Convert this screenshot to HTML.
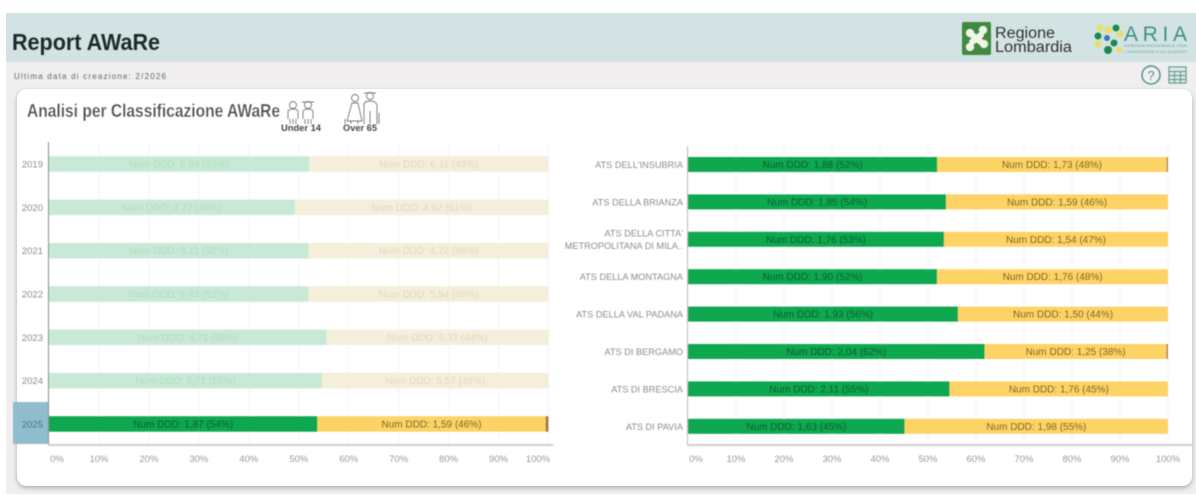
<!DOCTYPE html>
<html lang="it">
<head>
<meta charset="utf-8">
<title>Report AWaRe</title>
<style>
html,body{margin:0;padding:0;width:1196px;height:500px;overflow:hidden;background:#fff}
svg{display:block;font-family:"Liberation Sans",sans-serif}
</style>
</head>
<body>
<svg id="root" xmlns="http://www.w3.org/2000/svg" width="1196" height="500" viewBox="0 0 1196 500">
  <defs>
    <filter id="soft" x="-2%" y="-2%" width="104%" height="104%"><feGaussianBlur stdDeviation="0.45"/></filter>
    <filter id="shadow" x="-2%" y="-3%" width="104%" height="108%"><feDropShadow dx="0" dy="2" stdDeviation="2.5" flood-color="#000" flood-opacity="0.28"/></filter>
  </defs>
  <rect x="6" y="62" width="1190" height="432" fill="#f0eeee"/>
  <rect x="6" y="13" width="1190" height="49" fill="#d3e3e3"/>
  <rect x="17" y="89" width="1175" height="397" rx="10" fill="#fff" filter="url(#shadow)"/>
  <g id="content" filter="url(#soft)">
    <text x="12" y="50" font-size="23" font-weight="700" fill="#1f2a2a" textLength="148" lengthAdjust="spacingAndGlyphs">Report AWaRe</text>
    <text x="14" y="79" font-size="8" fill="#666" textLength="152" lengthAdjust="spacing">Ultima data di creazione: 2/2026</text>

    <g>
      <rect x="962" y="22" width="29" height="33" rx="2" fill="#3f8a3f"/>
      <g fill="#eef7e6">
        <circle cx="970" cy="33" r="4"/><circle cx="983" cy="30" r="4"/>
        <circle cx="970" cy="47" r="4"/><circle cx="984" cy="44" r="4"/>
        <rect x="968" y="35.5" width="17" height="6" rx="3" transform="rotate(38 976.5 38.5)"/>
        <rect x="968" y="35.5" width="17" height="6" rx="3" transform="rotate(-38 976.5 38.5)"/>
      </g>
      <text x="995" y="38" font-size="15.5" fill="#333" textLength="60" lengthAdjust="spacingAndGlyphs">Regione</text>
      <text x="995" y="52" font-size="15.5" fill="#333" textLength="77" lengthAdjust="spacingAndGlyphs">Lombardia</text>
    </g>
    <g>
      <circle cx="1100" cy="28" r="3.5" fill="#e5de70"/><circle cx="1116" cy="28" r="3.5" fill="#1f8a50"/>
      <circle cx="1108" cy="30" r="3.5" fill="#e5de70"/><circle cx="1098" cy="36" r="3.5" fill="#1f8a50"/>
      <circle cx="1120" cy="34" r="3.5" fill="#e5de70"/><circle cx="1098" cy="44" r="3.5" fill="#e5de70"/>
      <circle cx="1114" cy="43" r="3.5" fill="#1f8a50"/><circle cx="1108" cy="50" r="4" fill="#1f8a50"/>
      <circle cx="1119" cy="50" r="3" fill="#e5de70"/><circle cx="1107" cy="38" r="3" fill="#3d78b8"/>
      <text x="1124" y="41" font-size="21" fill="#3f8f8a" textLength="63" lengthAdjust="spacing">ARIA</text>
      <text x="1124" y="47" font-size="4" fill="#6aa7a2" textLength="63" lengthAdjust="spacingAndGlyphs">AZIENDA REGIONALE PER</text>
      <text x="1124" y="53" font-size="4" fill="#6aa7a2" textLength="63" lengthAdjust="spacingAndGlyphs">L'INNOVAZIONE E GLI ACQUISTI</text>
    </g>
    <g>
      <circle cx="1151" cy="75" r="9" fill="none" stroke="#4f9393" stroke-width="1.5"/>
      <text x="1151" y="80" font-size="13" text-anchor="middle" fill="#4f9393">?</text>
    </g>
    <g fill="none" stroke="#5a9a8e" stroke-width="1.2">
      <rect x="1169" y="67" width="17" height="16" fill="#dfeae6"/>
      <path d="M1169 71.5H1186M1169 75.5H1186M1169 79.5H1186M1174.5 71.5V83M1180.5 71.5V83"/>
    </g>

    <text x="27" y="117" font-size="18.5" font-weight="700" fill="#4a4a4a" textLength="253" lengthAdjust="spacingAndGlyphs" stroke="#fff" stroke-width="0.2">Analisi per Classificazione AWaRe</text>
    <g>
      <g fill="none" stroke="#777" stroke-width="0.9">
        <circle cx="293" cy="105" r="3.5"/><path d="M288 119V112Q288 109 293 109T298 112V119M290 119V124M296 119V124M293 119V124"/>
        <circle cx="308" cy="105" r="3.5"/><path d="M303 119V112Q303 109 308 109T313 112V119M305 119V124M311 119V124M308 119V124M302 102H314"/>
      </g>
      <text x="301" y="131" font-size="9.5" font-weight="700" fill="#444" text-anchor="middle" textLength="40" lengthAdjust="spacingAndGlyphs">Under 14</text>
    </g>
    <g>
      <g fill="none" stroke="#777" stroke-width="0.9">
        <circle cx="355" cy="98" r="3.5"/><path d="M347 121L352 103H358L362 121ZM351 121V124M358 121V124"/>
        <circle cx="370" cy="96" r="3.5"/><path d="M364 124V105Q364 101 370 101T377 105V124M370 111V124M345 119V124M379 113V124M364 93H376"/>
      </g>
      <text x="360" y="131" font-size="9.5" font-weight="700" fill="#444" text-anchor="middle" textLength="34" lengthAdjust="spacingAndGlyphs">Over 65</text>
    </g>

    <rect x="13" y="402" width="35" height="42" fill="#8fbdcf"/>
    <g id="left-chart"></g>
    <g id="right-chart"></g>
  </g>
</svg>
<script>
// Left chart data
const years = ['2019', '2020', '2021', '2022', '2023', '2024', '2025'];
const yearGreen = [6.64, 4.77, 5.11, 6.43, 6.71, 6.71, 1.87];
const yearYellow = [6.11, 4.92, 4.72, 5.94, 5.37, 5.57, 1.59];
const yearOther = [0, 0, 0, 0, 0, 0, 0.02];
const selectedYear = '2025';

// Right chart data
const atsNames = [
  ["ATS DELL'INSUBRIA"],
  ['ATS DELLA BRIANZA'],
  ["ATS DELLA CITTA'", 'METROPOLITANA DI MILA..'],
  ['ATS DELLA MONTAGNA'],
  ['ATS DELLA VAL PADANA'],
  ['ATS DI BERGAMO'],
  ['ATS DI BRESCIA'],
  ['ATS DI PAVIA']
];
const atsGreen = [1.88, 1.85, 1.76, 1.90, 1.93, 2.04, 2.11, 1.63];
const atsYellow = [1.73, 1.59, 1.54, 1.76, 1.50, 1.25, 1.76, 1.98];
const atsOther = [0.01, 0, 0, 0, 0, 0.01, 0, 0];

// Axis tick labels
const tickValues = [0, 10, 20, 30, 40, 50, 60, 70, 80, 90, 100];

const SVG_NS = 'http://www.w3.org/2000/svg';

function make(parent, tag, props, content) {
  const el = document.createElementNS(SVG_NS, tag);
  for (const key in props) el.setAttribute(key, props[key]);
  if (content !== undefined) el.textContent = content;
  parent.appendChild(el);
  return el;
}

function formatLabel(value, total) {
  return 'Num DDD: ' + value.toFixed(2).replace('.', ',') + ' (' + Math.round(value / total * 100) + '%)';
}

function drawChart(cfg) {
  const root = document.getElementById(cfg.id);
  const xScale = function (pct) { return cfg.x0 + pct / 100 * (cfg.x1 - cfg.x0); };
  const yScale = function (i) { return cfg.firstCenter + i * cfg.step; };

  tickValues.forEach(function (tick) {
    const grid = make(root, 'line', { x1: xScale(tick), x2: xScale(tick), y1: cfg.top, y2: cfg.axisY, stroke: '#f4f4f4', 'stroke-width': 1 });
    
    
    let labelX = xScale(tick);
    if (tick === 0) labelX += 8;
    if (tick === 100) labelX -= cfg.lastNudge;
    const label = make(root, 'text', { x: labelX, y: 462, 'font-size': 9.5, fill: '#999', 'text-anchor': 'middle' }, tick + '%');
    
    
  });

  cfg.green.forEach(function (greenValue, i) {
    const yellowValue = cfg.yellow[i];
    const otherValue = cfg.other[i];
    const total = greenValue + yellowValue + otherValue;
    const greenPct = greenValue / total * 100;
    const yellowPct = yellowValue / total * 100;
    const center = yScale(i);
    const faded = cfg.isFaded(i);
    const top = center - cfg.barHeight / 2;

    const row = make(root, 'g', {});
    
    

    const greenBar = make(row, 'rect', { x: xScale(0), y: top, width: xScale(greenPct) - xScale(0), height: cfg.barHeight, fill: faded ? '#c7e9d5' : '#0aa84f' });
    
    

    const yellowBar = make(row, 'rect', { x: xScale(greenPct), y: top, width: xScale(greenPct + yellowPct) - xScale(greenPct), height: cfg.barHeight, fill: faded ? '#f5eedb' : '#fdd365' });
    
    

    if (otherValue > 0) {
      const otherBar = make(row, 'rect', { x: xScale(greenPct + yellowPct), y: top, width: xScale(100) - xScale(greenPct + yellowPct), height: cfg.barHeight, fill: '#a8763c' });
      
      
    }

    const greenText = make(row, 'text', { x: xScale(greenPct / 2), y: center + 3.5, 'font-size': 10, 'text-anchor': 'middle', fill: faded ? '#b4dbc4' : '#0b4f2a' }, formatLabel(greenValue, total));
    
    

    const yellowText = make(row, 'text', { x: xScale(greenPct + yellowPct / 2), y: center + 3.5, 'font-size': 10, 'text-anchor': 'middle', fill: faded ? '#e0d8c2' : '#5f4e16' }, formatLabel(yellowValue, total));
    
    

    const lines = cfg.labels[i];
    lines.forEach(function (line, k) {
      const offset = (k - (lines.length - 1) / 2) * 12.5;
      const catLabel = make(root, 'text', { x: cfg.labelX, y: center + offset + 3.5, 'font-size': cfg.labelSize, fill: cfg.isSelected(i) ? '#3f5f75' : '#8c8c8c', 'text-anchor': 'end' }, line);
      
      
    });
  });

  const yAxis = make(root, 'line', { x1: cfg.x0 - 0.5, x2: cfg.x0 - 0.5, y1: cfg.top, y2: cfg.axisY, stroke: cfg.axisColor, 'stroke-width': 1 });
  
  

  const xAxis = make(root, 'line', { x1: cfg.x0 - 1, x2: cfg.axisEnd, y1: cfg.axisY, y2: cfg.axisY, stroke: '#cfcfcf', 'stroke-width': 2 });
  
  
}

drawChart({
  id: 'left-chart',
  x0: 49, x1: 548.5, axisEnd: 553, axisY: 445, top: 142,
  firstCenter: 164, step: 43.33, barHeight: 15.5,
  labelX: 43, labelSize: 9.5, lastNudge: 10.5, axisColor: '#888',
  keys: years,
  labels: years.map(function (y) { return [y]; }),
  green: yearGreen, yellow: yearYellow, other: yearOther,
  isFaded: function (i) { return years[i] !== selectedYear; },
  isSelected: function (i) { return years[i] === selectedYear; }
});

drawChart({
  id: 'right-chart',
  x0: 688, x1: 1168, axisEnd: 1193, axisY: 445, top: 146,
  firstCenter: 164.5, step: 37.4, barHeight: 15,
  labelX: 683, labelSize: 9.2, lastNudge: 0, axisColor: '#bbb',
  keys: atsNames.map(function (n, i) { return 'ats-' + (i + 1); }),
  labels: atsNames,
  green: atsGreen, yellow: atsYellow, other: atsOther,
  isFaded: function () { return false; },
  isSelected: function () { return false; }
});
</script>
</body>
</html>
